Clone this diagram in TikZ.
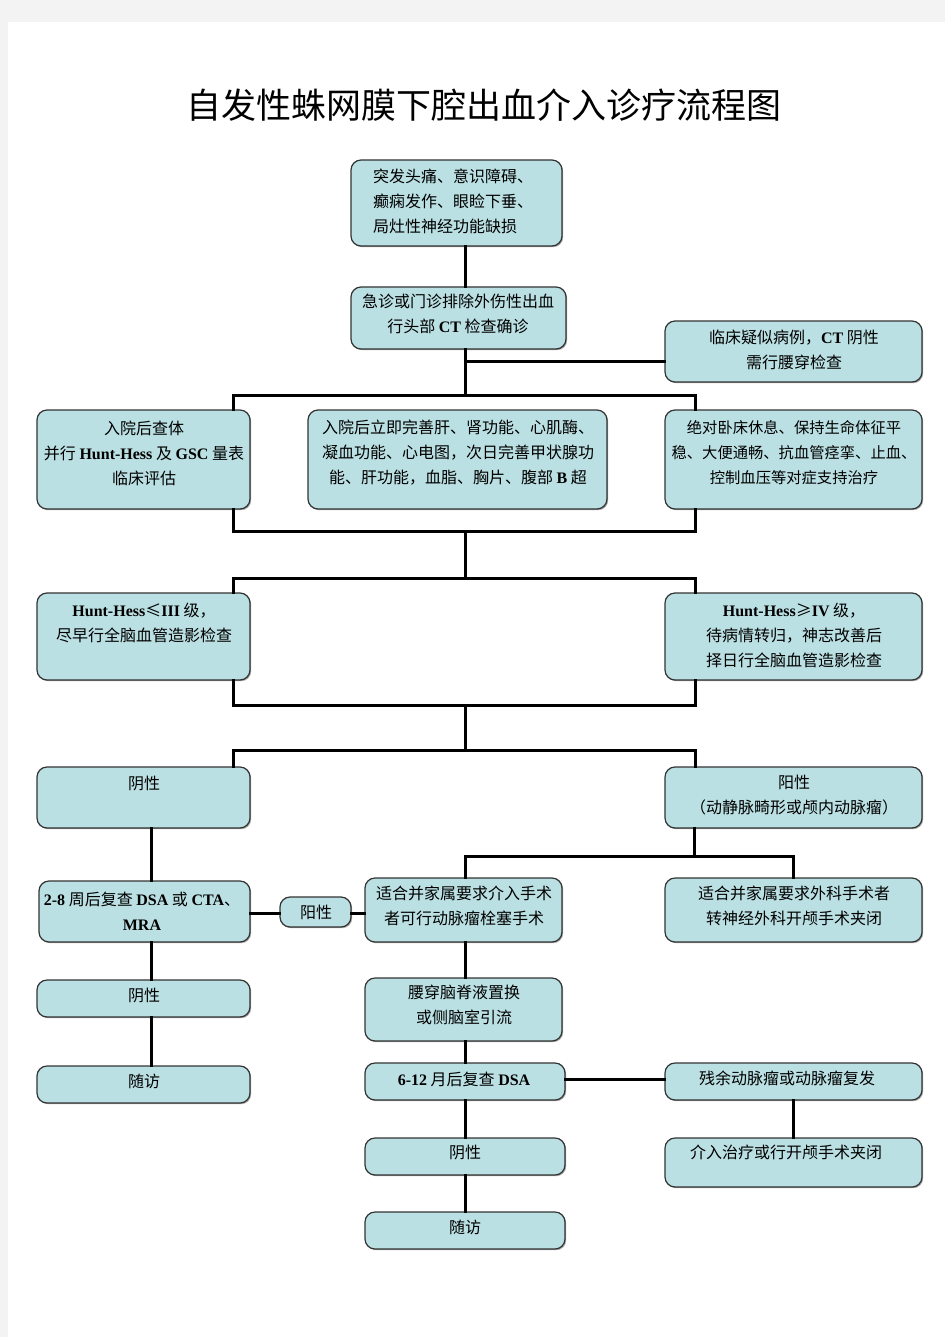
\documentclass[tikz,border=0pt]{standalone}
\usepackage{fontspec}
\setmainfont{Noto Sans CJK SC}
\newfontfamily\tnr{Liberation Serif}
\newcommand\lb[1]{{\tnr\bfseries #1}}
\usetikzlibrary{shadows}
\definecolor{boxfill}{HTML}{BBE0E3}
\definecolor{boxline}{HTML}{333333}
\definecolor{pagebg}{HTML}{F3F3F3}
\tikzset{
  bx/.style={draw=boxline, line width=1.2pt, fill=boxfill, rounded corners=10pt, inner sep=0pt,
    drop shadow={shadow xshift=1.2pt, shadow yshift=-1.2pt, opacity=0.35, fill=black}},
  txt/.style={font=\fontsize{16}{25}\selectfont, align=center, inner sep=0pt},
  txtn/.style={font=\fontsize{15.3}{25}\selectfont, align=center, inner sep=0pt},
  txtl/.style={font=\fontsize{16}{25}\selectfont, align=left, inner sep=0pt},
  ln/.style={line width=3pt, line cap=rect, line join=miter}
}
\begin{document}
\begin{tikzpicture}[x=1pt,y=-1pt]
\useasboundingbox (0,0) rectangle (945,1337);
\fill[pagebg] (0,0) rectangle (945,1337);
\fill[white] (8,22) rectangle (945,1337);

\node[font=\fontsize{35}{40}\selectfont, inner sep=0pt] (title) at (484,105) {自发性蛛网膜下腔出血介入诊疗流程图};

\coordinate (xm) at (465,0);
\coordinate (xl) at (233,0);
\coordinate (xr) at (695,0);
\coordinate (xl2) at (151,0);
\coordinate (xr2) at (793,0);
\coordinate (xr3) at (694,0);

% boxes
\node[bx, minimum width=211pt, minimum height=86pt] (b1) at (456.5,203) {};
\node[txtl] (t1) at (453,201) {突发头痛、意识障碍、\\癫痫发作、眼睑下垂、\\局灶性神经功能缺损};

\node[bx, minimum width=215pt, minimum height=62pt] (b2) at (458.5,318) {};
\node[txt] (t2) at (458,314) {急诊或门诊排除外伤性出血\\行头部 \lb{CT} 检查确诊};

\node[bx, minimum width=257pt, minimum height=61pt] (b3) at (793.5,351.5) {};
\node[txt] (t3) at (794,349.5) {临床疑似病例，\lb{CT} 阴性\\需行腰穿检查};

\node[bx, minimum width=213pt, minimum height=99pt] (b4l) at (143.5,459.5) {};
\node[txt] (t4l) at (144,453) {入院后查体\\并行 \lb{Hunt-Hess} 及 \lb{GSC} 量表\\临床评估};

\node[bx, minimum width=299pt, minimum height=99pt] (b4m) at (457.5,459.5) {};
\node[txt] (t4m) at (458,453) {入院后立即完善肝、肾功能、心肌酶、\\凝血功能、心电图，次日完善甲状腺功\\能、肝功能，血脂、胸片、腹部 \lb{B} 超};

\node[bx, minimum width=257pt, minimum height=99pt] (b4r) at (793.5,459.5) {};
\node[txtn] (t4r) at (794,453) {绝对卧床休息、保持生命体征平\\稳、大便通畅、抗血管痉挛、止血、\\控制血压等对症支持治疗};

\node[bx, minimum width=213pt, minimum height=87pt] (b5l) at (143.5,636.5) {};
\node[txt] (t5l) at (144,623) {\lb{Hunt-Hess}≤\lb{III} 级，\\尽早行全脑血管造影检查};

\node[bx, minimum width=257pt, minimum height=87pt] (b5r) at (793.5,636.5) {};
\node[txt] (t5r) at (794,635.5) {\lb{Hunt-Hess}≥\lb{IV} 级，\\待病情转归，神志改善后\\择日行全脑血管造影检查};

\node[bx, minimum width=213pt, minimum height=61pt] (b6l) at (143.5,797.5) {};
\node[txt] (t6l) at (144,783) {阴性};

\node[bx, minimum width=257pt, minimum height=61pt] (b6r) at (793.5,797.5) {};
\node[txt] (t6r) at (794,795) {阳性\\（动静脉畸形或颅内动脉瘤）};

\node[bx, minimum width=211pt, minimum height=61pt] (b7l) at (144.5,911.5) {};
\node[txt] (t7l) at (142,911) {\lb{2-8} 周后复查 \lb{DSA} 或 \lb{CTA}、\\\lb{MRA}};

\node[bx, minimum width=71pt, minimum height=30pt] (pos) at (315.5,912) {};
\node[txt] (tpos) at (316,912) {阳性};

\node[bx, minimum width=197pt, minimum height=64pt] (b7m) at (463.5,910) {};
\node[txt] (t7m) at (464,905.5) {适合并家属要求介入手术\\者可行动脉瘤栓塞手术};

\node[bx, minimum width=257pt, minimum height=64pt] (b7r) at (793.5,910) {};
\node[txt] (t7r) at (794,905.5) {适合并家属要求外科手术者\\转神经外科开颅手术夹闭};

\node[bx, minimum width=213pt, minimum height=37pt] (b8l) at (143.5,998.5) {};
\node[txt] (t8l) at (144,995) {阴性};

\node[bx, minimum width=197pt, minimum height=63pt] (b8m) at (463.5,1009.5) {};
\node[txt] (t8m) at (464,1005) {腰穿脑脊液置换\\或侧脑室引流};

\node[bx, minimum width=213pt, minimum height=37pt] (b9l) at (143.5,1084.5) {};
\node[txt] (t9l) at (144,1081) {随访};

\node[bx, minimum width=200pt, minimum height=37pt] (b9m) at (465,1081.5) {};
\node[txt] (t9m) at (464,1079) {\lb{6-12} 月后复查 \lb{DSA}};

\node[bx, minimum width=257pt, minimum height=37pt] (b9r) at (793.5,1081.5) {};
\node[txt] (t9r) at (787,1078) {残余动脉瘤或动脉瘤复发};

\node[bx, minimum width=200pt, minimum height=37pt] (b10m) at (465,1156.5) {};
\node[txt] (t10m) at (465,1152) {阴性};

\node[bx, minimum width=257pt, minimum height=49pt] (b10r) at (793.5,1162.5) {};
\node[txt] (t10r) at (786,1152) {介入治疗或行开颅手术夹闭};

\node[bx, minimum width=200pt, minimum height=37pt] (b11m) at (465,1230.5) {};
\node[txt] (t11m) at (465,1227) {随访};

% connectors
\draw[ln] (b1.south -| xm) -- (b2.north -| xm);
\draw[ln] (b2.south -| xm) -- (465,395);
\coordinate (j1) at (465,361);
\draw[ln] (j1) -- (j1 -| b3.west);
\draw[ln] (b4l.north -| xl) -- (233,395) -- (695,395) -- (b4r.north -| xr);
\draw[ln] (b4l.south -| xl) -- (233,531) -- (695,531) -- (b4r.south -| xr);
\draw[ln] (465,531) -- (465,578);
\draw[ln] (b5l.north -| xl) -- (233,578) -- (695,578) -- (b5r.north -| xr);
\draw[ln] (b5l.south -| xl) -- (233,705) -- (695,705) -- (b5r.south -| xr);
\draw[ln] (465,705) -- (465,750);
\draw[ln] (b6l.north -| xl) -- (233,750) -- (695,750) -- (b6r.north -| xr);
\draw[ln] (b6l.south -| xl2) -- (b7l.north -| xl2);
\draw[ln] (b6r.south -| xr3) -- (694,856);
\draw[ln] (b7m.north -| xm) -- (465,856) -- (793,856) -- (b7r.north -| xr2);
\coordinate (j2) at (0,913);
\draw[ln] (b7l.east |- j2) -- (pos.west |- j2);
\draw[ln] (pos.east |- j2) -- (b7m.west |- j2);
\draw[ln] (b7l.south -| xl2) -- (b8l.north -| xl2);
\draw[ln] (b8l.south -| xl2) -- (b9l.north -| xl2);
\draw[ln] (b7m.south -| xm) -- (b8m.north -| xm);
\draw[ln] (b8m.south -| xm) -- (b9m.north -| xm);
\draw[ln] (b9m.south -| xm) -- (b10m.north -| xm);
\draw[ln] (b10m.south -| xm) -- (b11m.north -| xm);
\coordinate (j3) at (0,1079);
\draw[ln] (b9m.east |- j3) -- (b9r.west |- j3);
\draw[ln] (b9r.south -| xr2) -- (b10r.north -| xr2);
\end{tikzpicture}
\end{document}
